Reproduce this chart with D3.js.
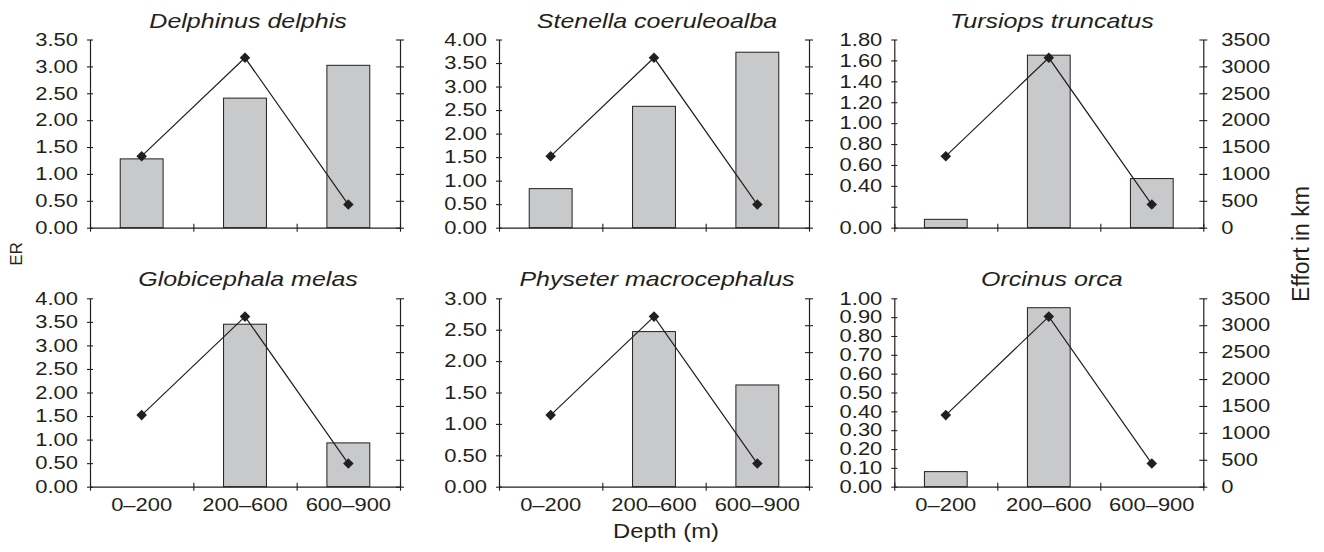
<!DOCTYPE html>
<html>
<head>
<meta charset="utf-8">
<script src="https://cdn.jsdelivr.net/npm/d3@7"></script>
<style>
  html, body { margin: 0; padding: 0; background: #fff; }
  svg { display: block; }
</style>
</head>
<body>
<script>
// ---------- data ----------
const categories = ["0–200", "200–600", "600–900"];
const effortKm = [1330, 3160, 430];
const speciesNames = ["Delphinus delphis", "Stenella coeruleoalba", "Tursiops truncatus",
                      "Globicephala melas", "Physeter macrocephalus", "Orcinus orca"];
const erDelphinus = [1.28, 2.41, 3.02];
const erStenella = [0.83, 2.58, 3.73];
const erTursiops = [0.08, 1.65, 0.47];
const erGlobicephala = [0, 3.45, 0.93];
const erPhyseter = [0, 2.47, 1.62];
const erOrcinus = [0.08, 0.95, 0];
const erSeries = [erDelphinus, erStenella, erTursiops, erGlobicephala, erPhyseter, erOrcinus];
const erAxisMax = [3.5, 4, 1.8, 4, 3, 1];
const erAxisStep = [0.5, 0.5, 0.2, 0.5, 0.5, 0.1];
const erHiddenLabels = [[], [], ["0.20"], [], [], []];
const effortTicks = [0, 500, 1000, 1500, 2000, 2500, 3000, 3500];

// ---------- layout ----------
const W = 1324, H = 552;
const colLeft = [90, 499, 894.3];
const colRight = [400, 809, 1203.3];
const rowTop = [39.5, 298.3];
const rowBottom = [227.7, 486.7];
const SX = 1.22;           // horizontal text stretch of the reference
const INK = "#231f20";
const TICK_FS = "18px";

const svg = d3.select("body").append("svg")
  .attr("width", W).attr("height", H)
  .style("font-family", "'Liberation Sans', Arial, Helvetica, sans-serif");

function styleAxis(g) {
  g.select(".domain").attr("stroke", INK).attr("stroke-width", 1.2);
  g.selectAll(".tick line").attr("stroke", INK).attr("stroke-width", 1.1);
  g.selectAll(".tick text").attr("fill", INK).style("font-size", TICK_FS);
}

speciesNames.forEach((name, i) => {
  const col = i % 3, row = Math.floor(i / 3);
  const x0 = colLeft[col], x1 = colRight[col];
  const y0 = rowTop[row], y1 = rowBottom[row];
  const vals = erSeries[i];

  const yL = d3.scaleLinear([0, erAxisMax[i]], [y1, y0]);
  const yR = d3.scaleLinear([0, 3500], [y1, y0]);
  const xb = d3.scaleBand(categories, [x0, x1]).paddingInner(0.585).paddingOuter(0.2925);
  const xs = d3.scaleLinear([0, categories.length], [x0, x1]);

  const g = svg.append("g");

  // bars
  g.selectAll("rect.bar")
    .data(vals.map((v, j) => ({ v, c: categories[j] })).filter(d => d.v > 0))
    .join("rect").attr("class", "bar")
    .attr("x", d => xb(d.c))
    .attr("width", xb.bandwidth())
    .attr("y", d => yL(d.v))
    .attr("height", d => y1 - yL(d.v))
    .attr("fill", "#c8c9cb")
    .attr("stroke", INK)
    .attr("stroke-width", 1);

  // left axis
  const nT = Math.round(erAxisMax[i] / erAxisStep[i]);
  const lTicks = d3.range(0, nT + 1).map(k => +(k * erAxisStep[i]).toFixed(2));
  const gl = g.append("g").attr("transform", `translate(${x0},0)`)
    .call(d3.axisLeft(yL).tickValues(lTicks)
      .tickFormat(d => { const s = d3.format(".2f")(d); return erHiddenLabels[i].includes(s) ? "" : s; })
      .tickSizeOuter(0));
  styleAxis(gl);
  gl.selectAll(".tick line").attr("x1", 3).attr("x2", -3);
  gl.selectAll(".tick text").attr("x", -12 / SX).attr("transform", `scale(${SX},1)`);

  // right axis
  const gr = g.append("g").attr("transform", `translate(${x1},0)`)
    .call(d3.axisRight(yR).tickValues(effortTicks)
      .tickFormat(col === 2 ? d3.format("d") : () => "")
      .tickSizeOuter(0));
  styleAxis(gr);
  gr.selectAll(".tick line").attr("x1", -4).attr("x2", 4);
  gr.selectAll(".tick text").attr("x", 18 / SX).attr("transform", `scale(${SX},1)`);

  // bottom axis (category separators)
  const gb = g.append("g").attr("transform", `translate(0,${y1})`)
    .call(d3.axisBottom(xs).tickValues(d3.range(0, categories.length + 1)).tickFormat(() => "").tickSizeOuter(0));
  styleAxis(gb);
  gb.selectAll(".tick line").attr("y1", -4).attr("y2", 4);

  if (row === 1) {
    const gc = g.append("g").attr("transform", `translate(0,${y1})`)
      .call(d3.axisBottom(xb).tickSize(0));
    gc.select(".domain").remove();
    gc.selectAll(".tick text").attr("fill", INK).style("font-size", TICK_FS)
      .attr("y", 11.5).attr("dy", "0.71em").attr("transform", `scale(${SX},1)`);
  }

  // effort line
  const cx = j => xb(categories[j]) + xb.bandwidth() / 2;
  g.append("path")
    .datum(effortKm)
    .attr("fill", "none").attr("stroke", INK).attr("stroke-width", 1.2)
    .attr("d", d3.line().x((d, j) => cx(j)).y(d => yR(d)));
  g.selectAll("path.mk")
    .data(effortKm)
    .join("path").attr("class", "mk")
    .attr("d", d3.symbol(d3.symbolSquare, 56))
    .attr("transform", (d, j) => `translate(${cx(j)},${yR(d)}) rotate(45)`)
    .attr("fill", INK);

  // title
  svg.append("text")
    .attr("transform", `translate(${(x0 + x1) / 2 + 3},${y0 - 12}) scale(${SX},1)`)
    .attr("text-anchor", "middle")
    .style("font-size", "20.5px").style("font-style", "italic")
    .attr("fill", INK)
    .text(name);
});

// axis titles
svg.append("text")
  .attr("transform", "translate(16,254) rotate(-90)")
  .attr("text-anchor", "middle").attr("dy", "0.35em")
  .style("font-size", "17px").attr("fill", INK)
  .text("ER");
svg.append("text")
  .attr("transform", "translate(1301,244) rotate(-90)")
  .attr("text-anchor", "middle").attr("dy", "0.35em")
  .style("font-size", "23px").attr("fill", INK)
  .text("Effort in km");
svg.append("text")
  .attr("transform", `translate(666,538) scale(${SX},1)`)
  .attr("text-anchor", "middle")
  .style("font-size", "19.5px").attr("fill", INK)
  .text("Depth (m)");
</script>
</body>
</html>
